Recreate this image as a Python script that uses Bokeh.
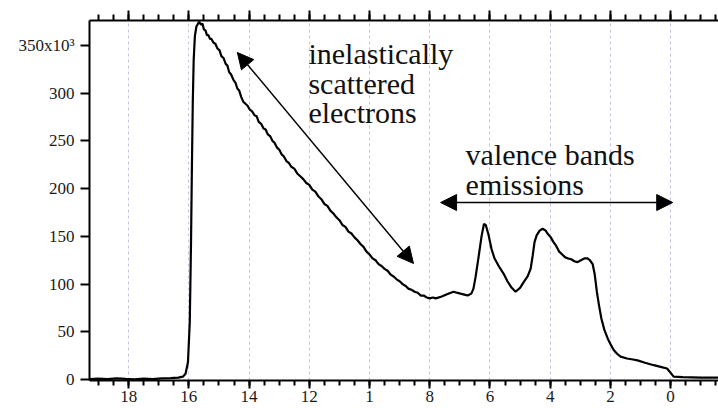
import numpy as np
from bokeh.plotting import figure
from bokeh.models import Range1d, LinearAxis, FixedTicker, Arrow, NormalHead, Label
from bokeh.embed import file_html
from bokeh.resources import INLINE

# Binding energy (eV) and intensity (counts / 1000)
energy = [19.30, 19.00, 18.70, 18.40, 18.10, 17.80, 17.50, 17.20, 16.90, 16.60,
          16.35, 16.20, 16.11, 16.03, 15.97, 15.93, 15.90, 15.87, 15.84, 15.80,
          15.75, 15.66, 15.60, 15.55, 15.50, 15.45, 15.40, 15.35, 15.30, 15.25,
          15.18, 15.12, 15.05, 14.98, 14.92, 14.85, 14.78, 14.72, 14.66, 14.60,
          14.52, 14.45, 14.39, 14.33, 14.26, 14.19, 14.12, 14.05, 13.98, 13.90,
          13.82, 13.75, 13.68, 13.60, 13.52, 13.45, 13.38, 13.30, 13.22, 13.15,
          13.07, 13.00, 12.92, 12.85, 12.76, 12.68, 12.60, 12.50, 12.40, 12.30,
          12.20, 12.10, 12.00, 11.90, 11.80, 11.70, 11.60, 11.50, 11.40, 11.30,
          11.20, 11.10, 11.00, 10.90, 10.80, 10.70, 10.60, 10.50, 10.40, 10.30,
          10.20, 10.10, 10.00, 9.90, 9.80, 9.70, 9.60, 9.50, 9.40, 9.30,
          9.20, 9.10, 9.00, 8.90, 8.80, 8.70, 8.60, 8.50, 8.40, 8.30,
          8.20, 8.10, 8.00, 7.90, 7.80, 7.60, 7.45, 7.30, 7.21, 7.10,
          6.98, 6.85, 6.74, 6.62, 6.55, 6.48, 6.38, 6.28, 6.20, 6.14,
          6.05, 5.95, 5.85, 5.71, 5.55, 5.42, 5.30, 5.15, 5.00, 4.88,
          4.75, 4.65, 4.58, 4.52, 4.45, 4.35, 4.25, 4.15, 4.09, 3.98,
          3.89, 3.80, 3.70, 3.60, 3.50, 3.42, 3.30, 3.20, 3.09, 2.98,
          2.85, 2.76, 2.68, 2.59, 2.52, 2.45, 2.38, 2.30, 2.20, 2.09,
          1.98, 1.89, 1.78, 1.66, 1.45, 1.25, 1.10, 0.85, 0.56, 0.30,
          0.12, 0.00, -0.10, -0.40, -1.00, -1.60]
intensity_k = [0.5, 1.0, 0.3, 1.2, 0.6, 0.2, 0.9, 0.4, 1.1, 1.5,
               2.0, 3.0, 6, 18, 60, 140, 220, 290, 335, 360,
               370, 375, 372, 373, 367, 366, 361, 361, 357, 357,
               353, 352, 347, 345, 339, 337, 331, 329, 322, 320,
               314, 311, 305, 303, 296, 291, 289, 287, 283, 281,
               277, 276, 270, 268, 263, 262, 257, 255, 250, 248,
               243, 241, 236, 234, 229, 227, 223, 221, 216, 213,
               210, 206, 204, 199, 197, 192, 189, 184, 182, 177,
               174, 170, 167, 162, 160, 155, 153, 149, 146, 142,
               139, 134, 131, 127, 125, 121, 119, 116, 114, 110,
               108, 105, 103, 100, 98, 95, 94, 92, 91, 88,
               88, 86, 85, 86, 85, 87, 89, 91, 92, 91,
               90, 89, 88, 90, 95, 107, 128, 150, 163, 162,
               152, 137, 127, 119, 111, 103, 97, 92, 96, 102,
               108, 116, 130, 144, 151, 156, 158, 156, 153, 149,
               144, 140, 134, 131, 128, 127, 126, 124, 123, 125,
               127, 127, 125, 121, 110, 92, 78, 64, 52, 43,
               36, 31, 27, 24, 22, 21, 20, 17.5, 15, 13,
               11.5, 7, 3, 2.5, 2, 2]

x_major = [18, 16, 14, 12, 10, 8, 6, 4, 2, 0]
x_labels = ["18", "16", "14", "12", "1", "8", "6", "4", "2", "0"]
y_major = [0, 50, 100, 150, 200, 250, 300, 350]
y_labels = ["0", "50", "100", "150", "200", "250", "300", "350x10\u00b3"]

FONT = "Liberation Serif"

p = figure(width=718, height=408, output_backend="svg", toolbar_location=None,
           x_range=Range1d(19.30, -1.59), y_range=Range1d(-1.05, 376.3),
           min_border_left=89, min_border_right=0, min_border_top=20,
           min_border_bottom=28)
p.outline_line_color = None
p.background_fill_color = "white"
p.border_fill_color = "white"

minor = [float(v) for v in np.arange(-1.5, 19.51, 0.5)]
xt = FixedTicker(ticks=x_major, minor_ticks=minor)

# bottom axis
xa = p.xaxis[0]
xa.ticker = xt
xa.major_label_overrides = {v: s for v, s in zip(x_major, x_labels)}
xa.axis_line_width = 2
xa.major_tick_line_width = 2
xa.minor_tick_line_width = 2
xa.major_tick_out = 8
xa.major_tick_in = 0
xa.minor_tick_out = 5
xa.minor_tick_in = 0
xa.major_label_standoff = 2
xa.major_label_text_font = FONT
xa.major_label_text_font_size = "17px"
xa.major_label_text_color = "#1a1a1a"

# left axis
ya = p.yaxis[0]
ya.ticker = FixedTicker(ticks=y_major, minor_ticks=[])
ya.major_label_overrides = {v: s for v, s in zip(y_major, y_labels)}
ya.axis_line_width = 2
ya.major_tick_line_width = 2
ya.major_tick_out = 9
ya.major_tick_in = 0
ya.minor_tick_line_color = None
ya.major_label_standoff = 6
ya.major_label_text_font = FONT
ya.major_label_text_font_size = "17px"
ya.major_label_text_color = "#1a1a1a"

# top axis (ticks only)
top = LinearAxis(ticker=FixedTicker(ticks=x_major, minor_ticks=minor))
top.axis_line_width = 2
top.major_tick_line_width = 2
top.minor_tick_line_width = 2
top.major_tick_out = 10
top.major_tick_in = 0
top.minor_tick_out = 6
top.minor_tick_in = 0
top.major_label_overrides = {v: "" for v in x_major}
top.major_label_text_font_size = "1px"
top.major_label_standoff = 0
p.add_layout(top, "above")

# grid
p.xgrid.ticker = FixedTicker(ticks=x_major)
p.xgrid.grid_line_color = "#c4c4e4"
p.xgrid.grid_line_dash = "3 3"
p.xgrid.grid_line_width = 1
p.ygrid.visible = False

p.line(energy, intensity_k, line_color="black", line_width=2.2)

# annotations
p.add_layout(Arrow(start=NormalHead(size=16, fill_color="black", line_color="black"),
                   end=NormalHead(size=16, fill_color="black", line_color="black"),
                   x_start=14.39, y_start=342.8, x_end=8.54, y_end=121.6,
                   line_width=1.5, line_color="black"))
p.add_layout(Arrow(start=NormalHead(size=16, fill_color="black", line_color="black"),
                   end=NormalHead(size=16, fill_color="black", line_color="black"),
                   x_start=7.64, y_start=185.5, x_end=-0.07, y_end=185.5,
                   line_width=1.5, line_color="black"))

texts = [("inelastically", 12.03, 341.5), ("scattered", 12.03, 310.0),
         ("electrons", 12.03, 279.5), ("valence bands", 6.81, 235.5),
         ("emissions", 6.81, 204.0)]
for t, x, y in texts:
    p.add_layout(Label(x=x, y=y, text=t, text_font=FONT, text_font_size="30px",
                       text_baseline="alphabetic", text_align="left",
                       text_color="#111111"))

open("out.html", "w").write(file_html(p, INLINE))
